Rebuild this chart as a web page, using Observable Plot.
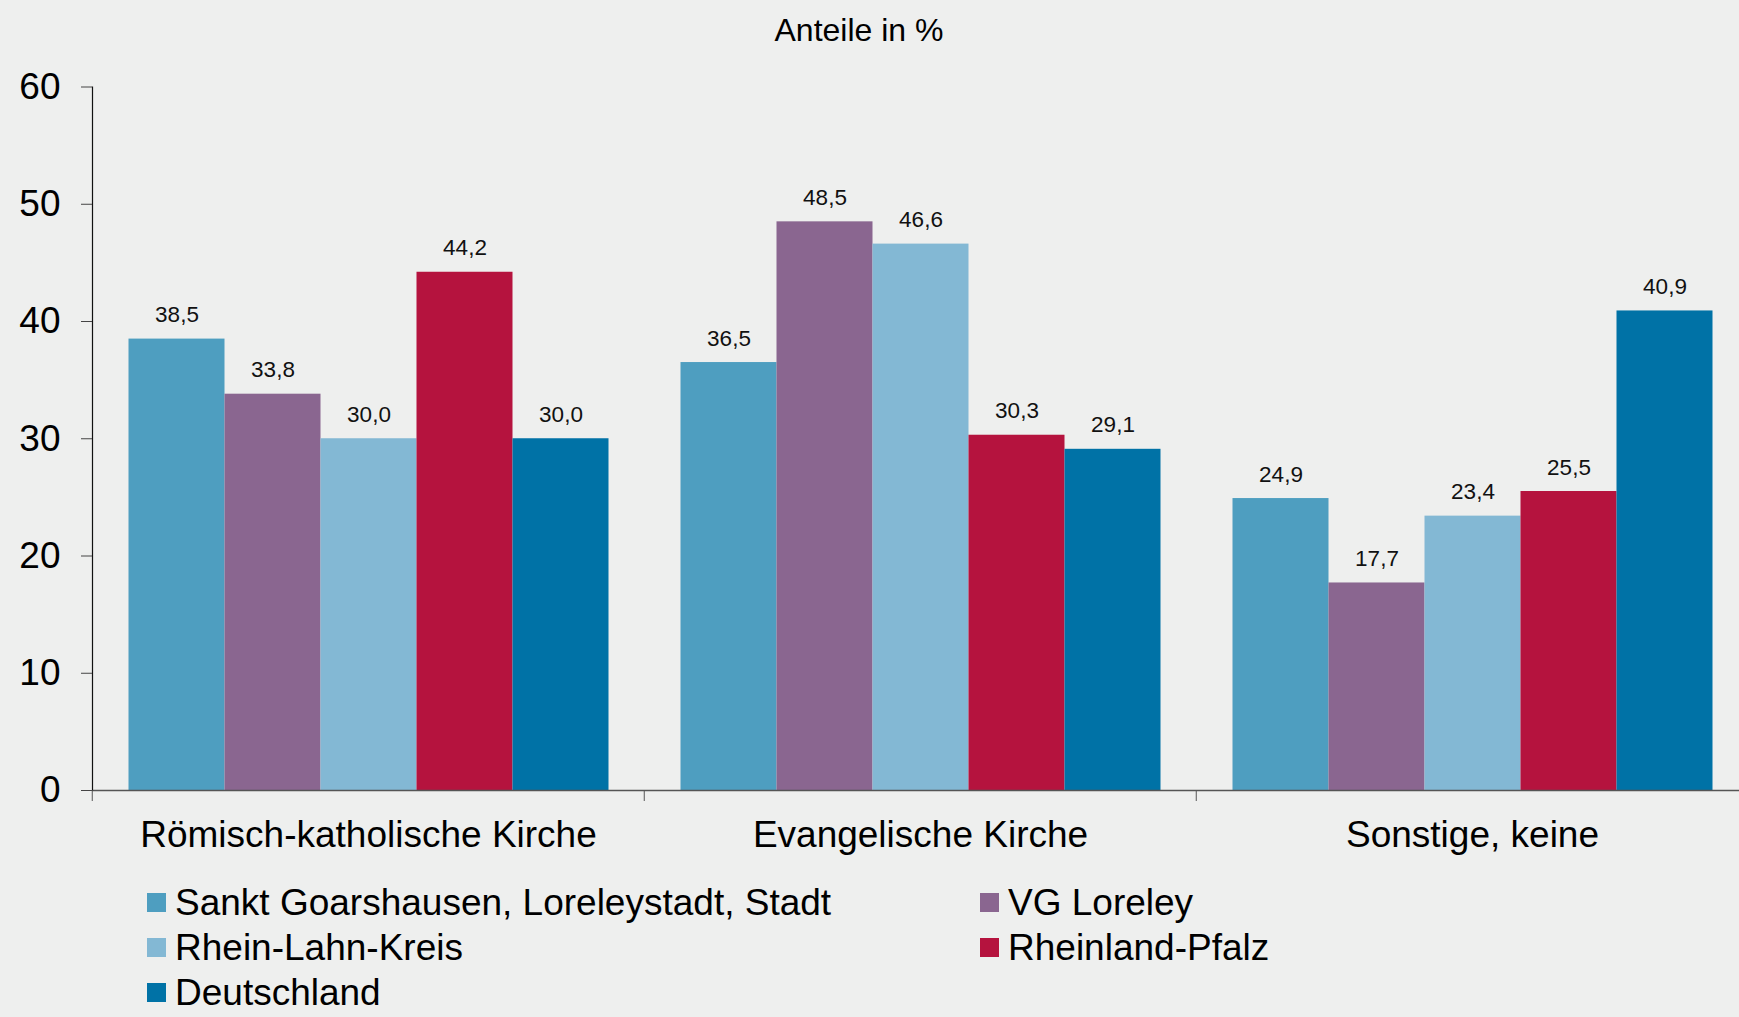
<!DOCTYPE html>
<html>
<head>
<meta charset="utf-8">
<script src="https://cdn.jsdelivr.net/npm/d3@7"></script>
<script src="https://cdn.jsdelivr.net/npm/@observablehq/plot@0.6"></script>
<style>
  html, body { margin: 0; padding: 0; background: #eeefee; overflow: hidden; }
  body { font-family: "Liberation Sans", Arial, sans-serif; color: #000; width: 1739px; height: 1017px; }
  #title { position: relative; height: 60px; }
  #title span { position: absolute; left: 859px; top: 14px; transform: translateX(-50%); font-size: 32px; line-height: 1; white-space: nowrap; }
  #chart svg { display: block; overflow: visible; }
  #legend { display: grid; grid-template-columns: 833px auto; padding-left: 147px; padding-top: 20px; font-size: 37px; line-height: 45px; }
  #legend .item { white-space: nowrap; }
  #legend .sw { display: inline-block; width: 19px; height: 19px; margin-right: 9px; margin-bottom: 3px; vertical-align: baseline; }
</style>
</head>
<body>
<div id="title"><span>Anteile in %</span></div>
<div id="chart"></div>
<div id="legend"></div>
<script>
const categories = ["Römisch-katholische Kirche", "Evangelische Kirche", "Sonstige, keine"];
const seriesNames = ["Sankt Goarshausen, Loreleystadt, Stadt", "VG Loreley", "Rhein-Lahn-Kreis", "Rheinland-Pfalz", "Deutschland"];
const seriesColors = ["#4e9ec0", "#8a6690", "#83b8d4", "#b5133e", "#0072a6"];
const valuesSanktGoarshausen = [38.5, 36.5, 24.9];
const valuesVGLoreley = [33.8, 48.5, 17.7];
const valuesRheinLahnKreis = [30.0, 46.6, 23.4];
const valuesRheinlandPfalz = [44.2, 30.3, 25.5];
const valuesDeutschland = [30.0, 29.1, 40.9];
const yTicks = [0, 10, 20, 30, 40, 50, 60];

const seriesValues = [valuesSanktGoarshausen, valuesVGLoreley, valuesRheinLahnKreis, valuesRheinlandPfalz, valuesDeutschland];
const rows = [];
categories.forEach((cat, ci) => {
  seriesNames.forEach((s, si) => {
    rows.push({cat, series: s, value: seriesValues[si][ci]});
  });
});
const fmt = v => v.toFixed(1).replace(".", ",");

const fxRange = [91.5, 91.5 + 3 * 552.5];
const halfStep = (fxRange[1] - fxRange[0]) / categories.length / 2;

const plot = Plot.plot({
  width: 1739,
  height: 800,
  marginTop: 26.5,
  marginBottom: 70,
  marginLeft: fxRange[0],
  marginRight: 1739 - fxRange[1],
  style: {background: "transparent", fontFamily: "Liberation Sans, Arial, sans-serif", color: "#000", overflow: "visible"},
  fx: {domain: categories, range: fxRange, paddingInner: 0, paddingOuter: 0, label: null},
  x: {domain: seriesNames, paddingInner: 0, paddingOuter: 0.35, axis: null},
  y: {domain: [0, 60], range: [730, 26.5]},
  color: {domain: seriesNames, range: seriesColors},
  marks: [
    Plot.barY(rows, {fx: "cat", x: "series", y: "value", fill: "series"}),
    Plot.text(rows, {fx: "cat", x: "series", y: "value", text: d => fmt(d.value), lineAnchor: "bottom", dy: -17, fontSize: 22.5, fill: "#111"}),
    Plot.ruleY([0], {stroke: "#555", strokeWidth: 1.5}),
    Plot.frame({anchor: "left", facetAnchor: "left", stroke: "#111", strokeWidth: 1.2}),
    Plot.axisY({ticks: yTicks, tickSize: 11, tickPadding: 21, fontSize: 37, tickFormat: d => String(d), label: null, stroke: "#444"}),
    Plot.axisFx({anchor: "bottom", tickSize: 0, tickPadding: 30, fontSize: 37, label: null}),
    Plot.axisFx({anchor: "bottom", tickSize: 11, tickFormat: () => "", label: null, dx: -halfStep, stroke: "#555"})
  ]
});
document.getElementById("chart").appendChild(plot);

const legend = document.getElementById("legend");
seriesNames.forEach((s, i) => {
  const item = document.createElement("div");
  item.className = "item";
  const sw = document.createElement("span");
  sw.className = "sw";
  sw.style.background = seriesColors[i];
  item.appendChild(sw);
  item.appendChild(document.createTextNode(s));
  legend.appendChild(item);
});
</script>
</body>
</html>
